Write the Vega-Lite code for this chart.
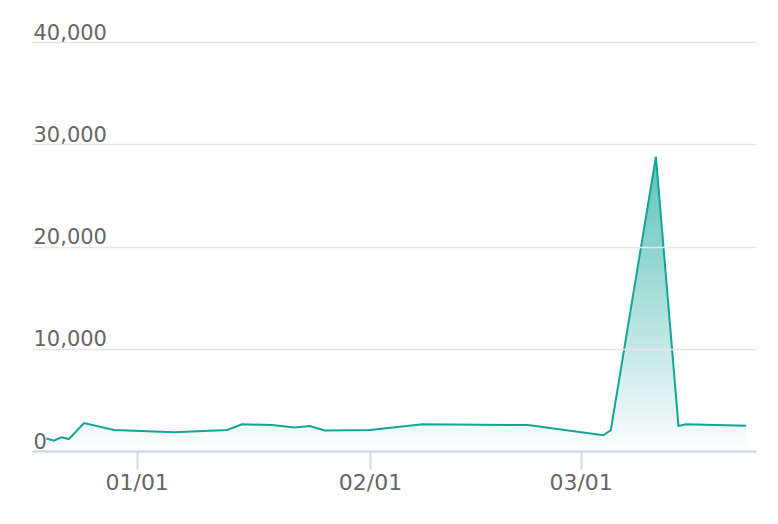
{
  "$schema": "https://vega.github.io/schema/vega-lite/v6.json",
  "width": 724,
  "height": 409,
  "autosize": {"type": "none"},
  "padding": {"left": 32, "top": 42, "right": 22, "bottom": 73},
  "background": "#ffffff",
  "config": {"view": {"stroke": null}},
  "data": {
    "values": [
      {"date": "2022-12-20T00:00", "value": 1220},
      {"date": "2022-12-21T00:00", "value": 1010},
      {"date": "2022-12-22T00:00", "value": 1340},
      {"date": "2022-12-23T00:00", "value": 1170},
      {"date": "2022-12-25T00:00", "value": 2740},
      {"date": "2022-12-29T00:00", "value": 2050},
      {"date": "2023-01-06T00:00", "value": 1830},
      {"date": "2023-01-13T00:00", "value": 2050},
      {"date": "2023-01-15T00:00", "value": 2610},
      {"date": "2023-01-19T00:00", "value": 2540},
      {"date": "2023-01-22T00:00", "value": 2300},
      {"date": "2023-01-24T00:00", "value": 2450},
      {"date": "2023-01-26T00:00", "value": 2010},
      {"date": "2023-02-01T00:00", "value": 2050},
      {"date": "2023-02-08T00:00", "value": 2610},
      {"date": "2023-02-22T00:00", "value": 2540},
      {"date": "2023-03-04T00:00", "value": 1535},
      {"date": "2023-03-05T00:00", "value": 2010},
      {"date": "2023-03-11T00:00", "value": 28780},
      {"date": "2023-03-14T00:00", "value": 2450},
      {"date": "2023-03-15T00:00", "value": 2610},
      {"date": "2023-03-23T00:00", "value": 2470}
    ]
  },
  "mark": {
    "type": "area",
    "line": {"color": "#12a598", "strokeWidth": 2},
    "color": {
      "gradient": "linear",
      "x1": 1, "y1": 1, "x2": 1, "y2": 0,
      "stops": [
        {"offset": 0, "color": "rgba(22,167,156,0.02)"},
        {"offset": 1, "color": "rgba(22,167,156,1)"}
      ]
    }
  },
  "encoding": {
    "x": {
      "field": "date",
      "type": "temporal",
      "title": null,
      "scale": {
        "domain": [
          {"year": 2022, "month": 12, "date": 18, "hours": 2, "minutes": 10},
          {"year": 2023, "month": 3, "date": 24, "hours": 7, "minutes": 12}
        ]
      },
      "axis": {
        "format": "%m/%d",
        "tickCount": {"interval": "month", "step": 1},
        "grid": false,
        "domainColor": "#ccd6eb",
        "domainWidth": 2,
        "tickColor": "#ccd6eb",
        "tickWidth": 2,
        "tickSize": 18,
        "labelPadding": 3,
        "labelFlush": false,
        "labelFont": "DejaVu Sans",
        "labelFontSize": 22,
        "labelColor": "#666666",
        "zindex": 1
      }
    },
    "y": {
      "field": "value",
      "type": "quantitative",
      "title": null,
      "scale": {"domain": [0, 40000], "nice": false},
      "axis": {
        "values": [0, 10000, 20000, 30000, 40000],
        "format": ",d",
        "grid": true,
        "gridColor": "#e6e6e6",
        "gridWidth": 1.5,
        "domain": false,
        "ticks": false,
        "tickSize": 0,
        "labelAlign": "left",
        "labelBaseline": "alphabetic",
        "labelPadding": -1,
        "labelOffset": -3,
        "labelFont": "DejaVu Sans",
        "labelFontSize": 21,
        "labelColor": "#666666",
        "zindex": 1
      }
    }
  }
}
